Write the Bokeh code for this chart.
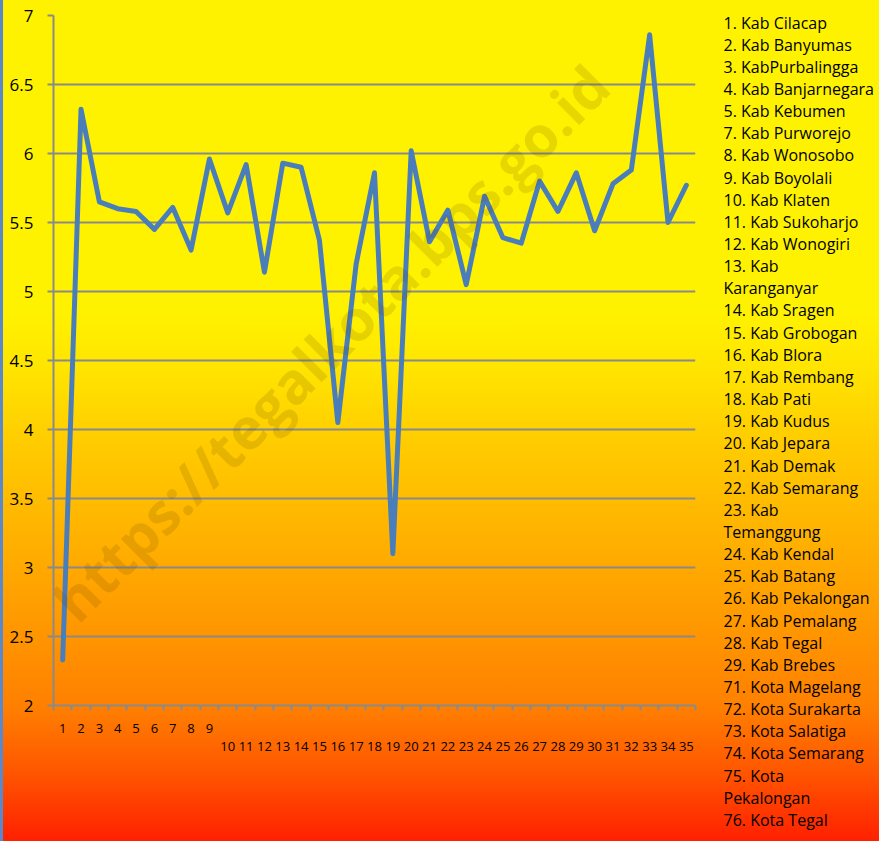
from bokeh.plotting import figure
from bokeh.layouts import row
from bokeh.models import Range1d, LinearAxis, FixedTicker, NumeralTickFormatter
from bokeh.core.properties import value
from bokeh.embed import file_html
from bokeh.resources import INLINE

# ---- data ----
codes = list(range(1, 36))
values = [2.33, 6.32, 5.65, 5.60, 5.58, 5.45, 5.61, 5.30, 5.96, 5.57,
          5.92, 5.14, 5.93, 5.90, 5.37, 4.05, 5.20, 5.86, 3.10, 6.02,
          5.36, 5.59, 5.05, 5.69, 5.39, 5.35, 5.80, 5.58, 5.86, 5.44,
          5.78, 5.88, 6.86, 5.50, 5.77]
y_ticks = [2, 2.5, 3, 3.5, 4, 4.5, 5, 5.5, 6, 6.5, 7]
first_row_labels = list(range(1, 10))
second_row_labels = list(range(10, 36))
legend_lines = [
    "1. Kab Cilacap", "2. Kab Banyumas", "3. KabPurbalingga", "4. Kab Banjarnegara",
    "5. Kab Kebumen", "7. Kab Purworejo", "8. Kab Wonosobo", "9. Kab Boyolali",
    "10. Kab Klaten", "11. Kab Sukoharjo", "12. Kab Wonogiri", "13. Kab",
    "Karanganyar", "14. Kab Sragen", "15. Kab Grobogan", "16. Kab Blora",
    "17. Kab Rembang", "18. Kab Pati", "19. Kab Kudus", "20. Kab Jepara",
    "21. Kab Demak", "22. Kab Semarang", "23. Kab", "Temanggung",
    "24. Kab Kendal", "25. Kab Batang", "26. Kab Pekalongan", "27. Kab Pemalang",
    "28. Kab Tegal", "29. Kab Brebes", "71. Kota Magelang", "72. Kota Surakarta",
    "73. Kota Salatiga", "74. Kota Semarang", "75. Kota", "Pekalongan",
    "76. Kota Tegal",
]
watermark = "https://tegalkota.bps.go.id"

# ---- layout ----
H = 841
CW = 713            # chart figure width
LW = 879 - CW       # side list figure width
FL, FR, FT, FB = 53, 695, 15, 705
FONT = "Open Sans"
GRID = "#8a8a8a"

p = figure(width=CW, height=H, output_backend="svg", toolbar_location=None,
           x_range=Range1d(0.5, 35.5), y_range=Range1d(2, 7),
           x_axis_location=None,
           min_border_left=FL, min_border_right=CW - FR,
           min_border_top=FT, min_border_bottom=H - FB)
p.background_fill_color = None
p.border_fill_color = None
p.outline_line_color = None
p.xgrid.visible = False
p.frame_align = False

# y axis
ya = p.yaxis[0]
ya.ticker = FixedTicker(ticks=y_ticks)
ya.formatter = NumeralTickFormatter(format="0.[0]")
ya.axis_line_color = GRID
ya.axis_line_width = 2
ya.major_tick_line_color = GRID
ya.major_tick_line_width = 2
ya.major_tick_out = 6
ya.major_tick_in = 0
ya.minor_tick_line_color = None
ya.major_label_text_font = FONT
ya.major_label_text_font_size = "17px"
ya.major_label_text_color = "black"
ya.major_label_standoff = 14

p.ygrid.ticker = FixedTicker(ticks=y_ticks)
p.ygrid.grid_line_color = GRID
p.ygrid.grid_line_width = 2

# x axis: ticks at category boundaries, labels staggered in two rows
boundaries = [c - 0.5 for c in codes] + [codes[-1] + 0.5]
xa1 = LinearAxis(ticker=FixedTicker(ticks=codes, minor_ticks=boundaries),
                 major_label_overrides={c: (str(c) if c in first_row_labels else "") for c in codes})
xa1.axis_line_color = GRID
xa1.axis_line_width = 2
xa1.major_tick_line_color = None
xa1.major_tick_out = 0
xa1.major_tick_in = 0
xa1.minor_tick_line_color = GRID
xa1.minor_tick_line_width = 2
xa1.minor_tick_out = 5
xa1.minor_tick_in = 0
xa1.major_label_text_font = FONT
xa1.major_label_text_font_size = "13px"
xa1.major_label_text_color = "black"
xa1.major_label_standoff = 13
p.add_layout(xa1, "below")

xa2 = LinearAxis(ticker=FixedTicker(ticks=second_row_labels))
xa2.axis_line_color = None
xa2.major_tick_line_color = None
xa2.minor_tick_line_color = None
xa2.major_tick_out = 0
xa2.major_tick_in = 0
xa2.major_label_text_font = FONT
xa2.major_label_text_font_size = "13px"
xa2.major_label_text_color = "black"
xa2.major_label_standoff = 6
p.add_layout(xa2, "below")

# data line
p.line(codes, values, line_color="#4a7ebb", line_width=5,
       line_join="round", line_cap="round")

# watermark (positioned in frame pixels, converted to data units)
px_x = (FR - FL) / 35.0
px_y = (FB - FT) / 5.0
def dx(fig_x):
    return 0.5 + (fig_x - FL) / px_x
def dy(fig_y):
    return 7 - (fig_y - FT) / px_y

p.text(x=[dx(330)], y=[dy(342)], text=[watermark], angle=0.785,
       text_font=value(FONT), text_font_style="bold", text_font_size="57px",
       text_color="#583e00", text_alpha=0.15,
       text_align="center", text_baseline="middle")

# side list as its own figure (pixel coordinates, y downward)
q = figure(width=LW, height=H, output_backend="svg", toolbar_location=None,
           x_range=Range1d(0, LW), y_range=Range1d(H, 0),
           x_axis_location=None, y_axis_location=None,
           min_border=0)
q.background_fill_color = None
q.border_fill_color = None
q.outline_line_color = None
q.xgrid.visible = False
q.ygrid.visible = False
q.frame_align = False
ys = [22 + i * 22.15 for i in range(len(legend_lines))]
q.text(x=[10] * len(legend_lines), y=ys, text=legend_lines,
       text_font=value(FONT), text_font_size="16px", text_color="black",
       text_align="left", text_baseline="middle")

layout = row(p, q, spacing=0)
layout.styles = {
    "background": "linear-gradient(to bottom, #FFF200 0%, #FFF200 37%, #FFE400 44%, "
                  "#FFD000 51%, #FFAA00 67%, #FF9400 76%, #FF8000 84%, #FF5500 92%, #FF2000 100%)",
    "box-shadow": "inset 3px 0 0 #5a88c8",
}

open("out.html", "w").write(file_html(layout, INLINE))
